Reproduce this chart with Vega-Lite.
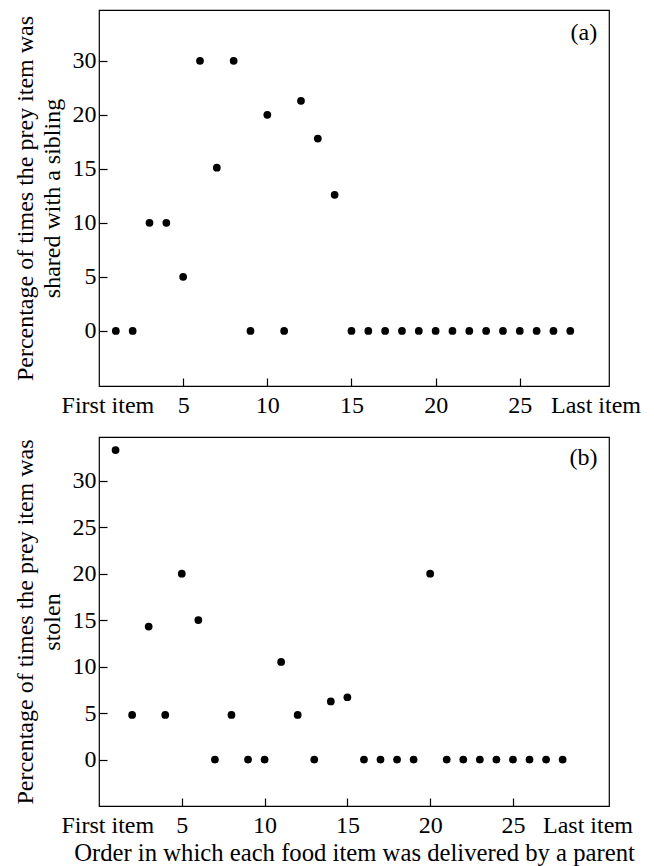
{
  "$schema": "https://vega.github.io/schema/vega-lite/v6.json",
  "padding": {"left": 12, "top": 9, "right": 8, "bottom": 5},
  "background": "white",
  "config": {
    "font": "Liberation Serif",
    "view": {"stroke": "black", "strokeWidth": 1.2},
    "axis": {
      "domain": false,
      "grid": false,
      "tickColor": "black",
      "tickSize": -8,
      "tickWidth": 1.2,
      "labelColor": "black",
      "labelFont": "Liberation Serif",
      "labelFontSize": 24,
      "titleFont": "Liberation Serif",
      "titleFontSize": 24,
      "titleFontWeight": "normal",
      "titleColor": "black",
      "labelOverlap": false,
      "labelFlush": false,
      "labelBound": false
    }
  },
  "spacing": 18,
  "vconcat": [
    {
      "width": 510,
      "height": 376,
      "layer": [
        {
          "data": {"values": [
            {"item": 1, "pct": 0}, {"item": 2, "pct": 0}, {"item": 3, "pct": 10}, {"item": 4, "pct": 10},
            {"item": 5, "pct": 5}, {"item": 6, "pct": 25}, {"item": 7, "pct": 15.1}, {"item": 8, "pct": 25},
            {"item": 9, "pct": 0}, {"item": 10, "pct": 20}, {"item": 11, "pct": 0}, {"item": 12, "pct": 21.3},
            {"item": 13, "pct": 17.8}, {"item": 14, "pct": 12.6}, {"item": 15, "pct": 0}, {"item": 16, "pct": 0},
            {"item": 17, "pct": 0}, {"item": 18, "pct": 0}, {"item": 19, "pct": 0}, {"item": 20, "pct": 0},
            {"item": 21, "pct": 0}, {"item": 22, "pct": 0}, {"item": 23, "pct": 0}, {"item": 24, "pct": 0},
            {"item": 25, "pct": 0}, {"item": 26, "pct": 0}, {"item": 27, "pct": 0}, {"item": 28, "pct": 0}
          ]},
          "mark": {"type": "circle", "size": 60, "color": "black", "opacity": 1},
          "encoding": {
            "x": {"field": "item", "type": "quantitative",
              "scale": {"domain": [0, 30.3], "nice": false, "zero": false},
              "axis": {"title": null, "values": [0.5, 5, 10, 15, 20, 25, 29.5],
                "labelExpr": "datum.value < 1 ? 'First item' : (datum.value > 29 ? 'Last item' : datum.label)",
                "tickOpacity": {"condition": {"test": "datum.value < 1 || datum.value > 29", "value": 0}, "value": 1},
                "labelPadding": 15}},
            "y": {"field": "pct", "type": "quantitative",
              "scale": {"domain": [-5.1, 29.7], "nice": false, "zero": false},
              "axis": {"title": ["Percentage of times the prey item was", "shared with a sibling"],
                "values": [0, 5, 10, 15, 20, 25],
                "labelExpr": "datum.value == 25 ? '30' : datum.label",
                "labelPadding": 11, "titlePadding": 8, "titleLineHeight": 27}}
          }
        },
        {
          "data": {"values": [{"panel": "(a)"}]},
          "mark": {"type": "text", "align": "right", "baseline": "middle", "fontSize": 24, "font": "Liberation Serif", "color": "black"},
          "encoding": {"text": {"field": "panel"}, "x": {"datum": 29.6}, "y": {"datum": 27.6}}
        }
      ]
    },
    {
      "width": 510,
      "height": 369,
      "layer": [
        {
          "data": {"values": [
            {"item": 1, "pct": 33.3}, {"item": 2, "pct": 4.8}, {"item": 3, "pct": 14.3}, {"item": 4, "pct": 4.8},
            {"item": 5, "pct": 20}, {"item": 6, "pct": 15}, {"item": 7, "pct": 0}, {"item": 8, "pct": 4.8},
            {"item": 9, "pct": 0}, {"item": 10, "pct": 0}, {"item": 11, "pct": 10.5}, {"item": 12, "pct": 4.8},
            {"item": 13, "pct": 0}, {"item": 14, "pct": 6.25}, {"item": 15, "pct": 6.7}, {"item": 16, "pct": 0},
            {"item": 17, "pct": 0}, {"item": 18, "pct": 0}, {"item": 19, "pct": 0}, {"item": 20, "pct": 20},
            {"item": 21, "pct": 0}, {"item": 22, "pct": 0}, {"item": 23, "pct": 0}, {"item": 24, "pct": 0},
            {"item": 25, "pct": 0}, {"item": 26, "pct": 0}, {"item": 27, "pct": 0}, {"item": 28, "pct": 0}
          ]},
          "mark": {"type": "circle", "size": 60, "color": "black", "opacity": 1},
          "encoding": {
            "x": {"field": "item", "type": "quantitative",
              "scale": {"domain": [0, 30.8], "nice": false, "zero": false},
              "axis": {"title": "Order in which each food item was delivered by a parent",
                "values": [0.5, 5, 10, 15, 20, 25, 29.5],
                "labelExpr": "datum.value < 1 ? 'First item' : (datum.value > 29 ? 'Last item' : datum.label)",
                "tickOpacity": {"condition": {"test": "datum.value < 1 || datum.value > 29", "value": 0}, "value": 1},
                "labelPadding": 15, "titlePadding": 3, "titleFontSize": 24.7}},
            "y": {"field": "pct", "type": "quantitative",
              "scale": {"domain": [-5, 34.7], "nice": false, "zero": false},
              "axis": {"title": ["Percentage of times the prey item was", "stolen"],
                "values": [0, 5, 10, 15, 20, 25, 30],
                "labelPadding": 11, "titlePadding": 8, "titleLineHeight": 27}}
          }
        },
        {
          "data": {"values": [{"panel": "(b)"}]},
          "mark": {"type": "text", "align": "right", "baseline": "middle", "fontSize": 24, "font": "Liberation Serif", "color": "black"},
          "encoding": {"text": {"field": "panel"}, "x": {"datum": 30.1}, "y": {"datum": 32.4}}
        }
      ]
    }
  ]
}
